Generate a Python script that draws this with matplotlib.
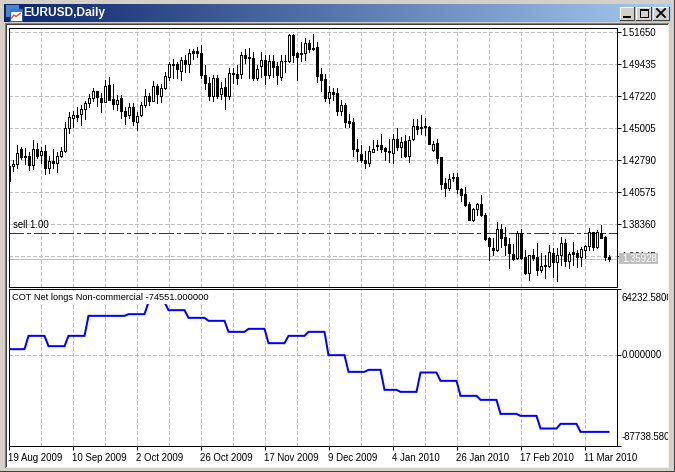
import numpy as np
import matplotlib
matplotlib.use("Agg")
import matplotlib.pyplot as plt
from matplotlib.patches import Rectangle
from matplotlib.transforms import blended_transform_factory

plt.rcParams['font.family'] = ['Liberation Sans', 'DejaVu Sans']

# Prices in 1/10000 units, one value per daily bar
opens = [14235,14235,14249,14351,14300,14300,14240,14351,14309,14337,
14221,14268,14256,14305,14337,14494,14567,14584,14595,14632,
14667,14708,14750,14706,14678,14794,14697,14664,14704,14618,
14586,14639,14540,14588,14653,14722,14685,14791,14720,14777,
14849,14937,14937,14893,14971,14941,15027,15027,15015,14867,
14812,14720,14840,14734,14780,14720,14881,14874,14874,14999,
14987,14985,14844,14923,14971,14865,14964,14925,14851,14964,
14964,15140,15013,15011,15013,15084,15054,15057,14874,14835,
14706,14743,14736,14616,14653,14544,14538,14355,14316,14279,
14258,14332,14378,14378,14358,14341,14325,14418,14367,14406,
14302,14418,14514,14494,14514,14503,14344,14390,14293,14113,
14083,14150,14155,14078,14039,13970,13861,13933,13968,13894,
13737,13665,13652,13797,13741,13693,13624,13596,13769,13603,
13492,13617,13603,13513,13548,13541,13631,13569,13617,13700,
13575,13638,13631,13603,13652,13679,13776,13672,13769,13741,
13603]
highs = [14240,14279,14376,14367,14360,14332,14413,14390,14367,14376,
14302,14351,14332,14365,14540,14607,14614,14641,14655,14687,
14729,14771,14754,14736,14828,14851,14805,14724,14727,14644,
14671,14671,14609,14674,14766,14736,14821,14805,14805,14884,
14955,14978,14955,14990,15001,15047,15043,15057,15070,14932,
14851,14863,14863,14817,14840,14909,14909,14932,15024,15047,
15052,15024,14932,15024,15001,15001,15001,14955,15001,15001,
15151,15147,15024,15094,15121,15105,15147,15094,14909,14870,
14787,14771,14777,14690,14667,14593,14563,14420,14378,14337,
14371,14413,14413,14459,14367,14424,14459,14494,14436,14448,
14441,14556,14556,14586,14563,14512,14408,14418,14298,14148,
14182,14187,14187,14085,14090,13986,13940,13975,14030,13908,
13744,13735,13845,13831,13811,13735,13693,13783,13797,13652,
13617,13658,13700,13631,13617,13686,13665,13665,13741,13728,
13638,13707,13652,13672,13686,13804,13780,13790,13825,13748,
13617]
lows = [14129,14198,14217,14281,14251,14205,14212,14286,14256,14178,
14185,14217,14194,14298,14332,14464,14503,14547,14517,14561,
14644,14685,14648,14609,14678,14690,14627,14621,14567,14524,
14563,14519,14482,14581,14644,14655,14683,14667,14678,14764,
14828,14844,14840,14828,14886,14886,14978,14990,14844,14766,
14690,14685,14706,14701,14630,14701,14810,14805,14844,14944,
14844,14828,14828,14851,14805,14840,14851,14805,14828,14886,
14955,14955,14828,14962,14967,15024,15036,14817,14754,14685,
14671,14690,14586,14586,14505,14505,14305,14268,14263,14221,
14235,14332,14344,14332,14274,14263,14256,14344,14298,14298,
14263,14413,14454,14454,14448,14383,14337,14256,14078,14028,
14071,14131,14044,13991,13956,13859,13855,13894,13887,13721,
13582,13617,13645,13672,13617,13527,13582,13589,13589,13485,
13444,13582,13478,13499,13458,13534,13465,13437,13548,13541,
13527,13548,13534,13541,13596,13652,13652,13665,13735,13582,
13575]
closes = [14129,14251,14327,14295,14295,14240,14351,14302,14337,14221,
14268,14256,14300,14341,14494,14572,14584,14572,14632,14667,
14708,14750,14711,14678,14791,14692,14664,14694,14616,14581,
14639,14547,14577,14653,14722,14685,14791,14734,14777,14854,
14937,14932,14907,14971,14941,15013,15017,15013,14863,14810,
14720,14840,14720,14777,14720,14881,14870,14844,14999,14983,
14983,14844,14902,14971,14865,14964,14921,14865,14964,14960,
15140,15004,14990,15015,15084,15045,15043,14858,14831,14706,
14743,14734,14616,14653,14538,14533,14353,14339,14277,14254,
14337,14355,14374,14353,14339,14330,14418,14367,14401,14302,
14411,14514,14489,14507,14503,14387,14387,14288,14111,14083,
14141,14155,14076,14034,13965,13861,13933,13968,13892,13728,
13679,13652,13797,13735,13686,13631,13589,13769,13596,13492,
13617,13596,13513,13541,13541,13638,13569,13617,13700,13575,
13624,13624,13603,13658,13679,13776,13672,13776,13735,13603,
13593]

# Weekly COT net longs, and how many daily bars each report covers
cot_weekly = [5500,18410,8405,18410,37770,37770,39385,51045,43257,35835,
32930,22281,25185,11310,18410,22281,-308,-16443,-14507,-33869,
-35805,-17088,-25156,-39677,-43550,-57103,-59039,-71302,-66784,-74551]
cot_bars = [5]*18 + [4,4] + [5]*9 + [8]

price_ticks = [1.51650,1.49435,1.47220,1.45005,1.42790,1.40575,1.38360,1.36145]
cot_ticks = [64232.58, 0.0, -87738.58]
date_labels = ["19 Aug 2009","10 Sep 2009","2 Oct 2009","26 Oct 2009","17 Nov 2009",
               "9 Dec 2009","4 Jan 2010","26 Jan 2010","17 Feb 2010","11 Mar 2010"]
sell_price = 1.3767
bid_price = 1.35928

W, H = 675, 472
PX = 0.72
FS = 6.9
fig = plt.figure(figsize=(W/100, H/100), dpi=100, facecolor='#D4D0C8')

def pane(x0, y0, x1, y1):
    return fig.add_axes([x0/W, 1-y1/H, (x1-x0)/W, (y1-y0)/H])

back = fig.add_axes([0,0,1,1], zorder=-1); back.set_xlim(0,W); back.set_ylim(H,0); back.axis('off')
back.add_patch(Rectangle((7,25),661,441.5,fc='white',ec='none'))

ax = pane(8.5,27.5,616.5,286.5)
ax2 = pane(8.5,288.5,616.5,445.5)

n = len(opens)
idx = np.arange(n)
o,h,l,c = [np.array(a)/1e4 for a in (opens,highs,lows,closes)]
up = c >= o
grid = dict(color='#C0C0C0', lw=PX, ls=(0,(4,2.5)), zorder=1, antialiased=False)

ax.set_xlim(0,152); ax.set_ylim(1.3400,1.51927)
ax.set_yticks(price_ticks); ax.set_yticklabels([f"{t:.5f}" for t in price_ticks])
ax.set_xticks(np.arange(8,152,8)); ax.set_xticklabels([])
ax.tick_params(axis='x', length=0)
ax.tick_params(axis='y', left=False, right=True, labelleft=False, labelright=True,
               length=3, width=PX, labelsize=FS, pad=0.5)
ax.grid(True, **grid); ax.set_axisbelow(True)
ax.axhline(bid_price, color='#C0C0C0', lw=PX, zorder=1.5, antialiased=False)
ax.axhline(sell_price, color='#006400', lw=PX, ls=(0,(14,4,3,4)), zorder=1.6, antialiased=False)
ax.vlines(idx, l, h, color='black', lw=PX, zorder=3, antialiased=False)
ax.bar(idx[up], (c-o)[up], bottom=o[up], width=0.5, fc='white', ec='black', lw=PX, zorder=4, antialiased=False)
ax.bar(idx[~up], (c-o)[~up], bottom=o[~up], width=0.5, fc='black', ec='black', lw=PX, zorder=4, antialiased=False)
ax.annotate("sell 1.00", xy=(1.2, sell_price), xytext=(0,2.5), textcoords='offset points',
            fontsize=FS, ha='left', va='bottom', zorder=5)

ax2.set_xlim(0,152); ax2.set_ylim(cot_ticks[2], cot_ticks[0])
ax2.set_yticks(cot_ticks); ax2.set_yticklabels([])
ax2.tick_params(axis='y', left=False, right=True, length=3, width=PX)
ax2.set_xticks(np.arange(0,152,16)); ax2.set_xticklabels(date_labels, ha='left', fontsize=FS)
ax2.tick_params(axis='x', length=3, width=PX, pad=2.5)
ax2.set_xticks(np.arange(8,152,16), minor=True)
ax2.tick_params(axis='x', which='minor', length=0)
ax2.grid(True, which='both', axis='x', **grid)
ax2.axhline(0, **grid)
ax2.set_axisbelow(True)
ax2.plot(idx, np.repeat(cot_weekly, cot_bars), color='#0000FF', lw=2*PX, zorder=3,
         solid_joinstyle='miter')
ax2.annotate("COT Net longs Non-commercial -74551.000000", xy=(0,1), xycoords='axes fraction',
             xytext=(2.5,-3), textcoords='offset points', va='top', ha='left', fontsize=6.65, zorder=5,
             bbox=dict(fc='white', ec='none', pad=1.5))
trans = blended_transform_factory(ax2.transAxes, ax2.transData)
lab = dict(textcoords='offset points', fontsize=FS, annotation_clip=False)
ax2.annotate("64232.5800", xy=(1,1), xycoords='axes fraction', xytext=(3.5,-3), va='top', **lab)
ax2.annotate("0.000000", xy=(1,0), xycoords=trans, xytext=(3.5,0), va='center', **lab)
ax2.annotate("-87738.5800", xy=(1,0), xycoords='axes fraction', xytext=(3.5,2.5), va='bottom', **lab)

for a in (ax, ax2):
    for s in a.spines.values():
        s.set_linewidth(PX); s.set_color('black')

# window frame and title bar, in pixel coordinates
ov = fig.add_axes([0,0,1,1], zorder=10); ov.patch.set_alpha(0)
grad = np.linspace(0,1,256)[None,:,None]
col = np.array([10,36,106])[None,None,:]/255*(1-grad) + np.array([166,202,240])[None,None,:]/255*grad
ov.imshow(col, extent=(4,671,22,4), aspect='auto', zorder=1)
ov.set_xlim(0,W); ov.set_ylim(H,0); ov.axis('off')
def rect(x,y,w,h,fc,ec='none',lw=0,z=2):
    ov.add_patch(Rectangle((x,y),w,h,fc=fc,ec=ec,lw=lw,zorder=z,antialiased=False))
rect(668,25,7,447,'#D4D0C8'); rect(0,466.5,W,5.5,'#D4D0C8')
rect(0,471,W,1,'#404040'); rect(674,0,1,H,'#404040')
rect(5,23,1,445,'#808080'); rect(5,23,664,1,'#808080')
rect(6,24,1,443,'#404040'); rect(6,24,662,1,'#404040')
rect(668,24,1,443,'#F0F0F0'); rect(6,467,663,1,'#F0F0F0')
# label of the current price
rect(619,252.7,39,11.3,'#C0C0C0')
ov.text(622,258.5,"1.35928",color='white',fontsize=FS,va='center',ha='left',zorder=3)
# title
ov.text(23.5,13,"EURUSD,Daily",color='white',fontsize=8.6,fontweight='bold',va='center',ha='left',zorder=3)
# icon
rect(6,5,13,12,'#4A86D8'); rect(9.5,9,12.5,12,'#FFFFFF',ec='#2A60C0',lw=PX)
rect(9.5,9,12.5,3,'#3A78D8')
ov.plot([11.5,14,16,20],[18,15,16.5,13.5],color='#E05020',lw=1.0,zorder=3)
# buttons
for bx,bw in ((620,14),(636,15),(653,16)):
    rect(bx,6.5,bw,13,'#D4D0C8')
    ov.plot([bx,bx,bx+bw],[19.5,6.5,6.5],color='white',lw=PX,zorder=3)
    ov.plot([bx,bx+bw,bx+bw],[19.5,19.5,6.5],color='#404040',lw=PX,zorder=3)
rect(623,15.5,8,2,'black',z=4)
rect(640,9,8,8,'none',ec='black',lw=PX,z=4); rect(640,9,8,1.5,'black',z=4)
ov.plot([657,665],[9,17],color='black',lw=1.3,zorder=4)
ov.plot([665,657],[9,17],color='black',lw=1.3,zorder=4)

fig.savefig("out.png", dpi=100, facecolor=fig.get_facecolor())
